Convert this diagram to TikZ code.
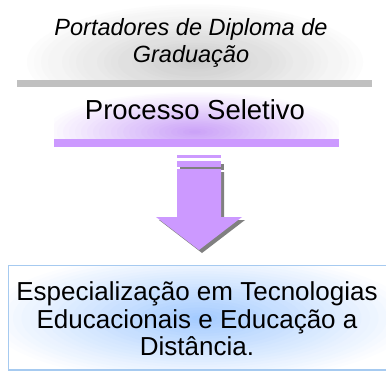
\documentclass[tikz,border=0pt]{standalone}
\usepackage{fontspec}
\setmainfont{Liberation Sans}
\definecolor{lilac}{HTML}{CC99FF}
\definecolor{glowlilac}{HTML}{B57BF5}
\definecolor{bargray}{HTML}{C0C0C0}
\definecolor{boxblue}{HTML}{A6CAF0}
\definecolor{glowblue}{HTML}{7FB6FF}

\begin{document}
\begin{tikzpicture}[x=1pt,y=1pt,
                    text node/.style={align=center,inner sep=0pt,font=\fontsize{26}{27.5}\selectfont},
                    shadow part/.style={fill=black!50},
                    arrow part/.style={fill=lilac}]

  \useasboundingbox (0,0) rectangle (386,-372);

  \coordinate (gray glow) at (195,-62);
  \coordinate (lilac glow) at (195,-132);
  \coordinate (blue glow) at (200,-318);

  \begin{scope}
    \clip (17,0) rectangle (372,-80);
    \foreach \k in {25,24,...,1} {
      \pgfmathtruncatemacro\shadepct{20*(26-\k)/25}
      \fill[black!\shadepct!white] (gray glow) ellipse [x radius=7pt*\k, y radius=2.4pt*\k];
    }
  \end{scope}
  \fill[bargray] (17,-80) rectangle (372,-87);
  \begin{scope}
    \clip (54,-92) rectangle (339,-139);
    \foreach \k in {25,24,...,1} {
      \pgfmathtruncatemacro\shadepct{70*(26-\k)/25}
      \fill[glowlilac!\shadepct!white] (lilac glow) ellipse [x radius=6pt*\k, y radius=1.6pt*\k];
    }
  \end{scope}
  \fill[lilac] (54,-139) rectangle (339,-147);
  \begin{scope}
    \clip (9,-266) rectangle (386,-370);
    \foreach \k in {25,24,...,1} {
      \pgfmathtruncatemacro\shadepct{70*(26-\k)/25}
      \fill[glowblue!\shadepct!white] (blue glow) ellipse [x radius=8.5pt*\k, y radius=2.6pt*\k];
    }
  \end{scope}
  \draw[boxblue,line width=1.2pt] (8.5,-265.5) rectangle (392,-370);

  \node[text node,font=\itshape\fontsize{23.5}{27}\selectfont] (grad) at (191,-43) {Portadores de Diploma de\\Graduação};
  \node[text node,font=\fontsize{27.5}{29}\selectfont] (proc) at (195,-110) {Processo Seletivo};
  \node[text node] (espec) at (197,-319) {Especialização em Tecnologias\\Educacionais e Educação a\\Distância.};

  \fill[shadow part] (180,-164) rectangle (224,-170);
  \fill[shadow part] (180,-172) -- (224,-172) -- (224,-220) -- (245,-220) -- (202,-253) -- (159,-220) -- (180,-220) -- cycle;
  \fill[arrow part] (177,-155) rectangle (221,-158);
  \fill[arrow part] (177,-161) rectangle (221,-167);
  \fill[arrow part] (177,-169) -- (221,-169) -- (221,-217) -- (242,-217) -- (199,-250) -- (156,-217) -- (177,-217) -- cycle;
\end{tikzpicture}
\end{document}
